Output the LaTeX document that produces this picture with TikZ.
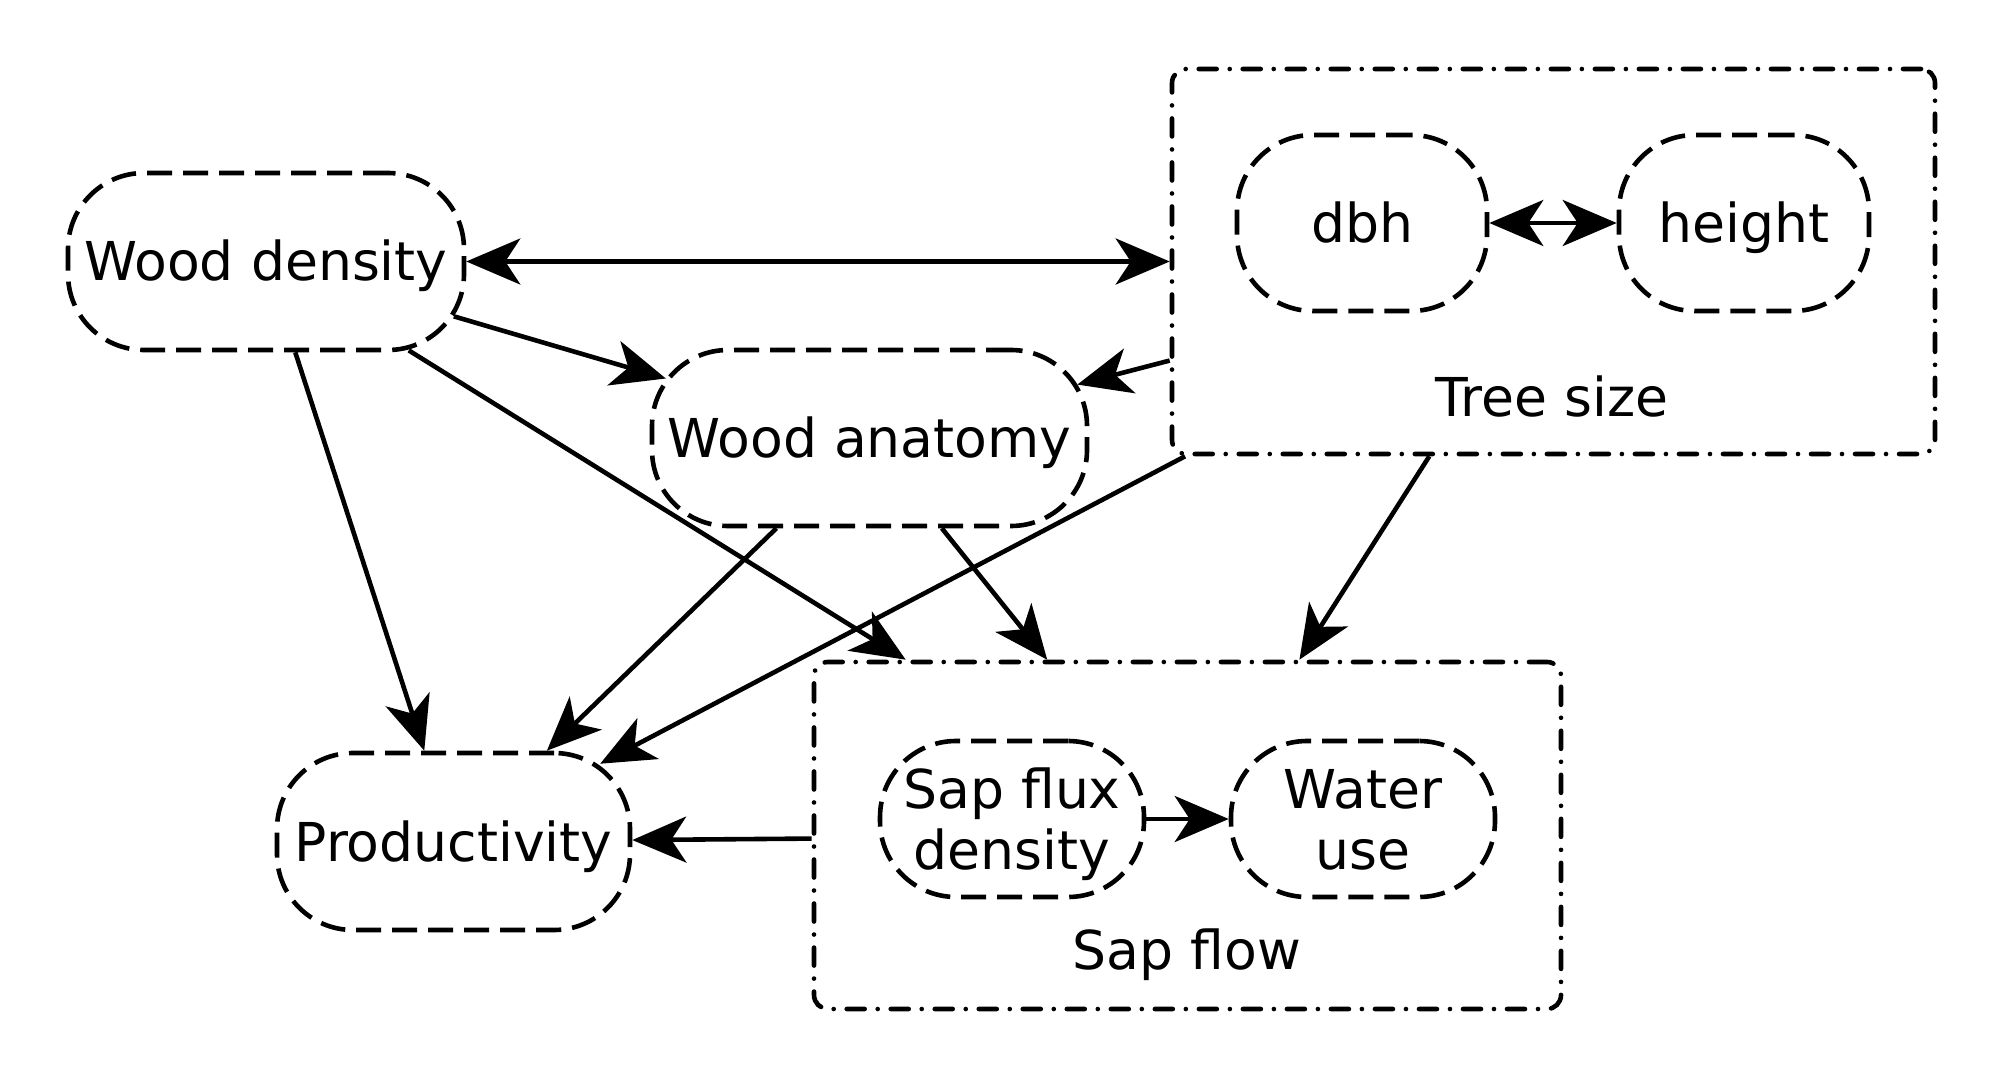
\documentclass[tikz,border=0pt]{standalone}
\usepackage{fontspec}
\setmainfont{DejaVu Sans}
\usetikzlibrary{arrows.meta}
\begin{document}
\begin{tikzpicture}[x=0.5pt,y=-0.5pt,
  every node/.style={font=\fontsize{26.8pt}{30.5pt}\selectfont},
  var/.style={draw, line width=2.3pt, dash pattern=on 12.5pt off 5.5pt, rounded corners=38pt, inner sep=0pt, text height=19.5pt, text depth=0pt, align=center},
  vartwo/.style={draw, line width=2.3pt, dash pattern=on 12.5pt off 5.5pt, rounded corners=38pt, inner sep=0pt, text depth=0pt, align=center},
  cluster/.style={draw, line width=2.3pt, line cap=round, dash pattern=on 9pt off 6.5pt on 0.01pt off 6.5pt, rounded corners=7pt, inner sep=0pt},
  tip/.tip={Stealth[length=27pt,width=23pt,inset=7.5pt]},
  arr/.style={line width=2.3pt, -tip},
  arrtwo/.style={line width=2.3pt, tip-tip},
]
\useasboundingbox (0,0) rectangle (2000,1079);

\node[var, minimum width=198pt, minimum height=88.5pt] (wd) at (266,261.5) {Wood density};
\node[var, minimum width=217.5pt, minimum height=88pt] (wa) at (869.5,438) {Wood anatomy};
\node[var, minimum width=176.5pt, minimum height=88.5pt] (pr) at (453.5,841.5) {Productivity};

\node[cluster, minimum width=381.5pt, minimum height=192.5pt] (ts) at (1553.5,261.5) {};
\node[var, minimum width=125pt, minimum height=88pt] (dbh) at (1362,223) {dbh};
\node[var, minimum width=125pt, minimum height=88pt] (ht) at (1744,223) {height};
\node[anchor=base] (tsl) at (1552,417) {Tree size};

\node[cluster, minimum width=373.5pt, minimum height=173.5pt] (sf) at (1187.5,835.5) {};
\node[vartwo, minimum width=132pt, minimum height=78pt] (sfd) at (1012,819) {Sap flux\\density};
\node[vartwo, minimum width=132pt, minimum height=78pt] (wu) at (1363,819) {Water\\use};
\node[anchor=base] (sfl) at (1187,969) {Sap flow};

\draw[arrtwo] (wd) -- (ts);
\draw[arr, shorten <=-6.5pt, shorten >=-8.4pt] (wd) -- (wa);
\draw[arr] (wd) -- (pr);
\draw[arr, shorten <=-1.8pt] (wd) -- (sf);
\draw[arr, shorten >=-6.2pt] (ts) -- (wa);
\draw[arr, shorten >=-14pt] (ts) -- (pr);
\draw[arr] (ts) -- (sf);
\draw[arr] (wa) -- (pr);
\draw[arr] (wa) -- (sf);
\draw[arr] (sf) -- (pr);
\draw[arrtwo] (dbh) -- (ht);
\draw[arr] (sfd) -- (wu);
\end{tikzpicture}
\end{document}
